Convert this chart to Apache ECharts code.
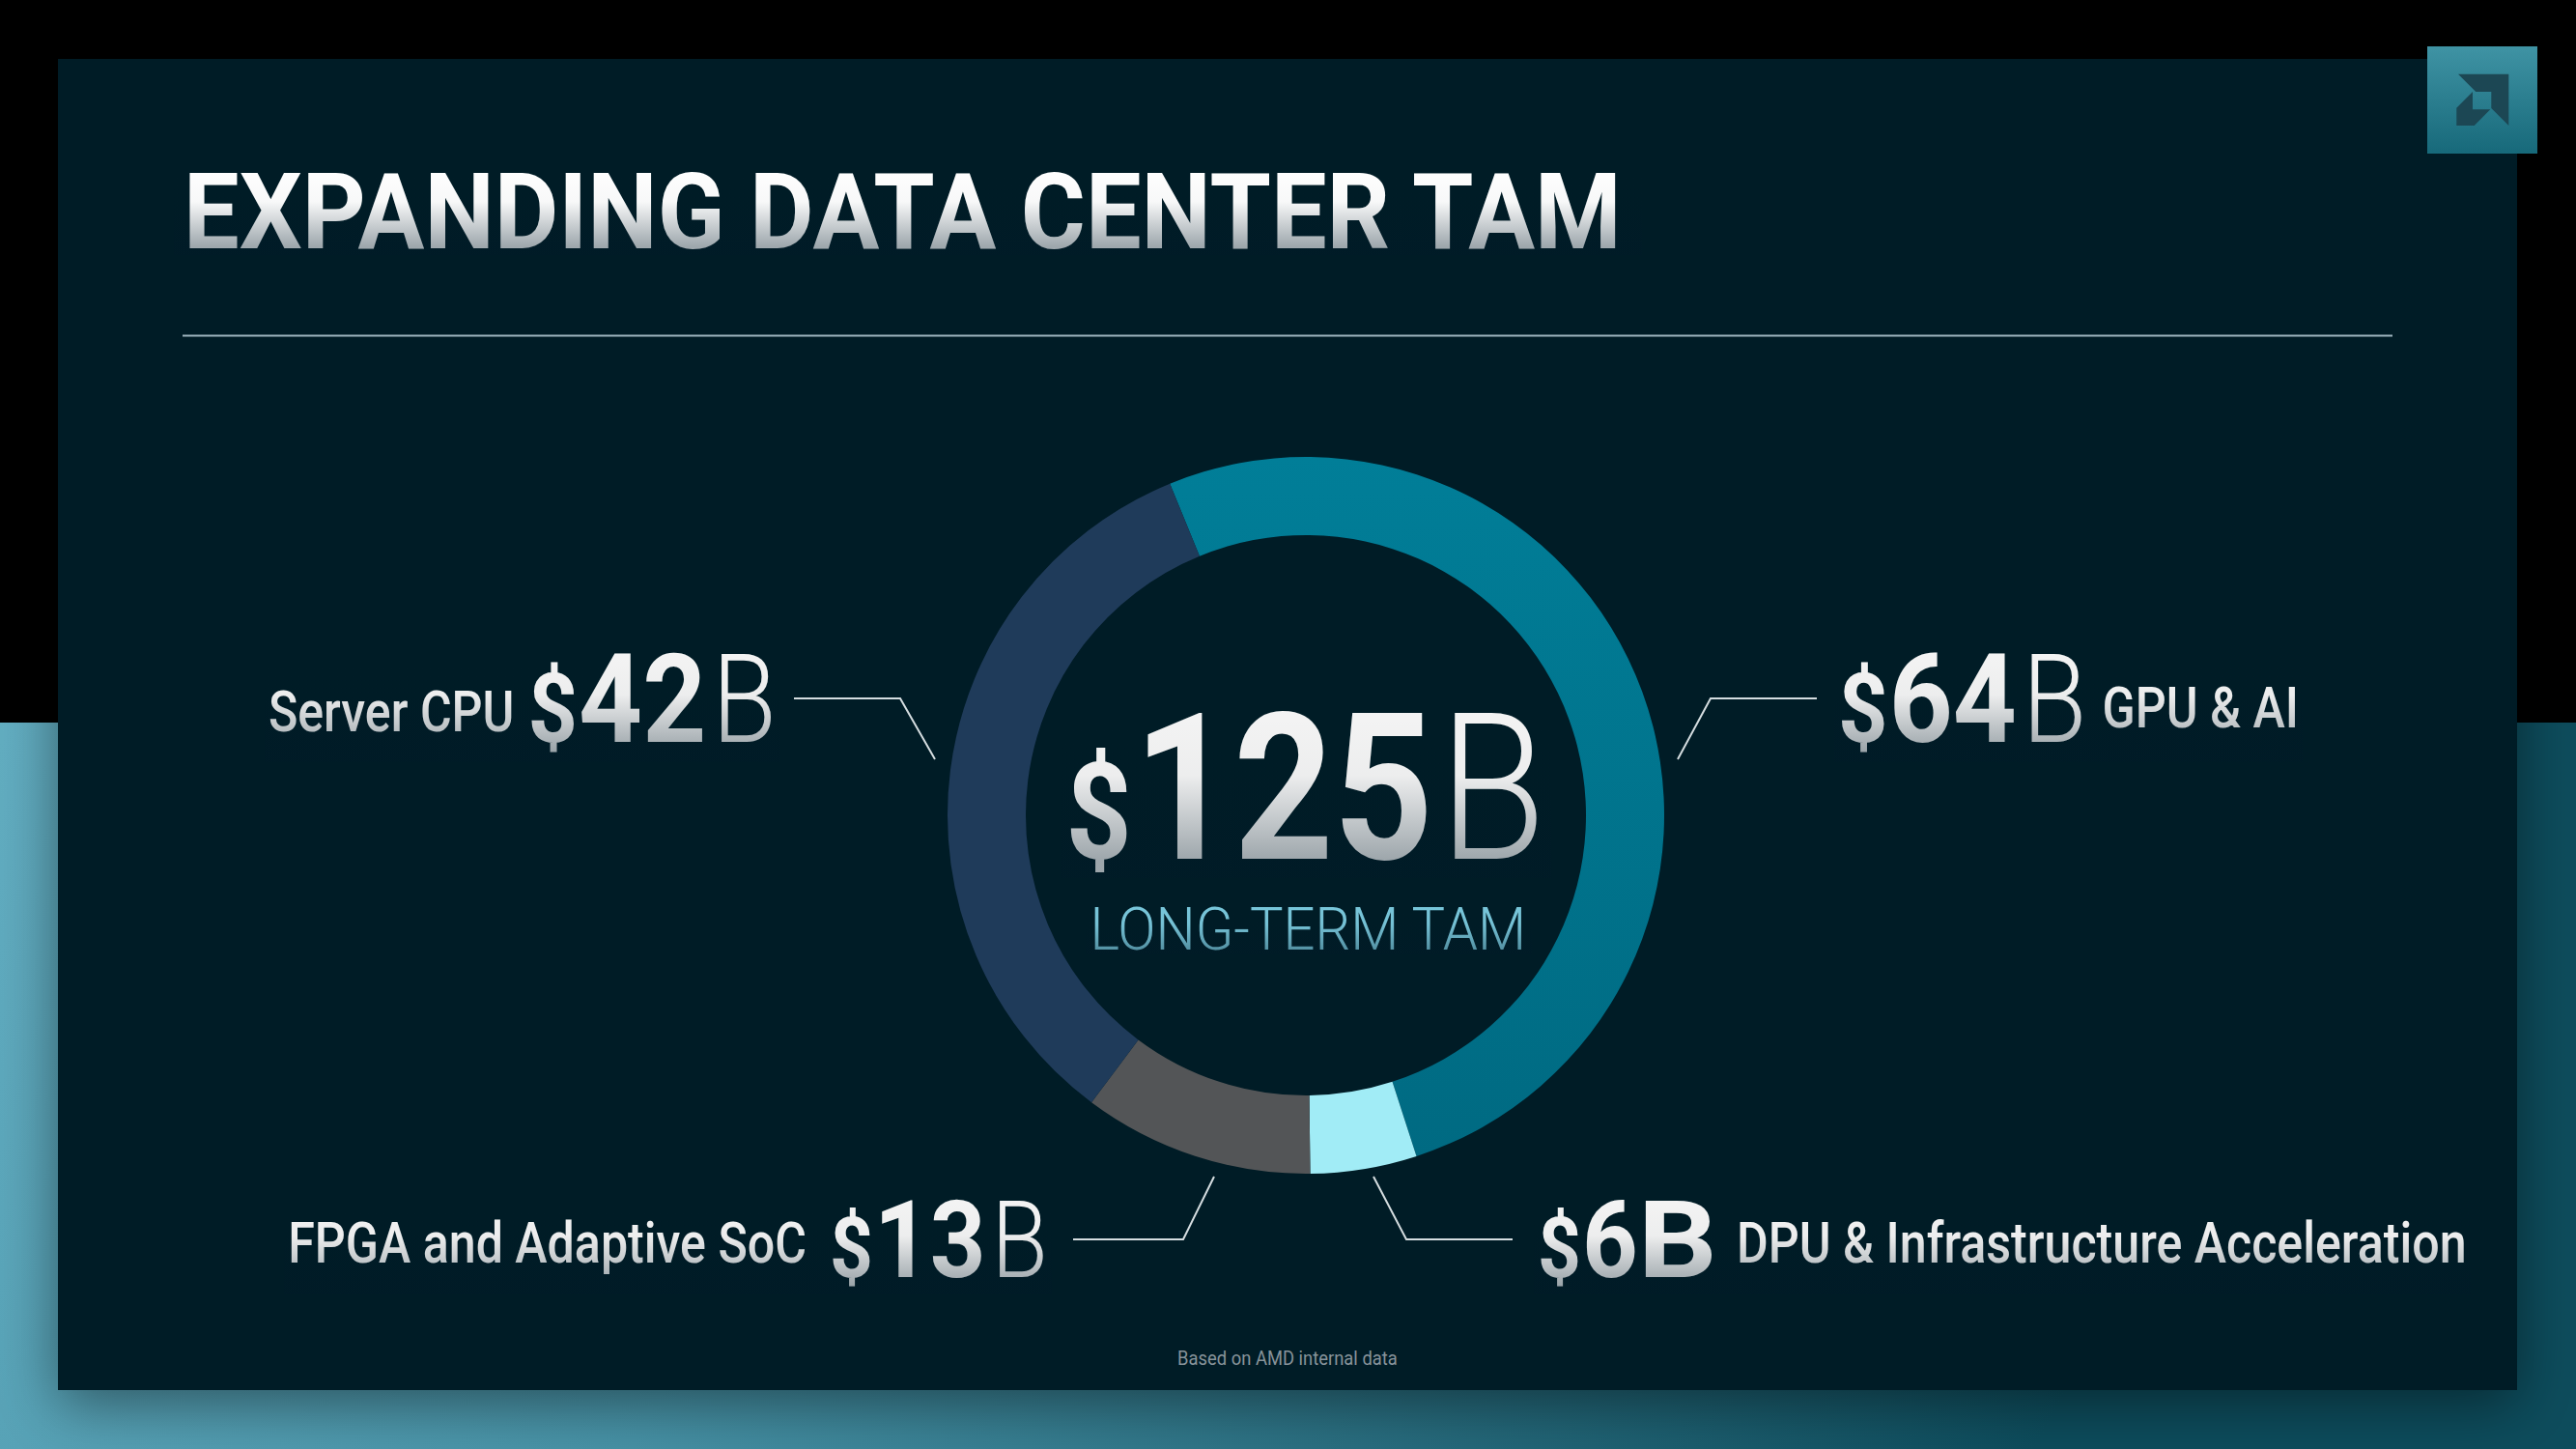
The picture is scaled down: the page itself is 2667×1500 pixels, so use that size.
<!DOCTYPE html>
<html>
<head>
<meta charset="utf-8">
<script src="https://cdn.jsdelivr.net/npm/echarts@6/dist/echarts.min.js"></script>
<style>
html,body{margin:0;padding:0;background:#000;}
#main{width:2667px;height:1500px;}
</style>
</head>
<body>
<div id="main"></div>
<script>
// ---------------- DATA ----------------
const chartTitle = 'EXPANDING DATA CENTER TAM';
const categories = ['GPU & AI', 'DPU & Infrastructure Acceleration', 'FPGA and Adaptive SoC', 'Server CPU'];
const values = [64, 6, 13, 42];           // $B
const totalCaption = 'LONG-TERM TAM';
const footnote = 'Based on AMD internal data';
const unitText = 'B';
const currency = '$';

// ---------------- STYLE / LAYOUT ----------------
const FONT = 'Roboto, "Noto Sans", sans-serif';
const K = 0.342; // central-baseline offset (em)
const PANEL = '#011a28';
const TEXT = '#f4f4f4';
const sliceColors = [
  new echarts.graphic.LinearGradient(0, 0, 0, 1, [{offset: 0, color: '#017e98'}, {offset: 1, color: '#006a82'}]),
  '#a1ecf6',
  '#535557',
  '#1f3b5a'
];
const PIE_CENTER = [1352, 844];
const PIE_RADIUS = [290, 371];
// leader line geometry & label rows, per category (annotation layout)
const labelPlacement = [
  {side: 'right', line: [[1737, 786], [1771, 723], [1881, 723]], numBase: 768, nameBase: 753, numSize: 128, unitWeight: 300, gap: 22, nameGap: 16},
  {side: 'right', line: [[1422, 1218], [1456, 1283], [1566, 1283]], numBase: 1322, nameBase: 1307, numSize: 112, unitWeight: 700, gap: 26, nameGap: 20},
  {side: 'left',  line: [[1257, 1218], [1225, 1283], [1111, 1283]], numBase: 1322, nameBase: 1307, numSize: 112, unitWeight: 300, gap: 26, nameGap: 24},
  {side: 'left',  line: [[968, 786], [932, 723], [822, 723]], numBase: 768, nameBase: 757, numSize: 128, unitWeight: 300, gap: 18, nameGap: 14}
];
const SC = {name: 0.85, num: 0.9, unit: 0.85, unitBold: 1.15, center: 0.85, caption: 0.935, foot: 0.92};

const mctx = document.createElement('canvas').getContext('2d');
function fontStr(w, s) { return w + ' ' + s + 'px ' + FONT; }
function tw(text, w, s) { mctx.font = fontStr(w, s); return mctx.measureText(text).width; }
function textEl(text, x, baseline, weight, size, scaleX, fill, align, z) {
  return {
    type: 'text', x: x, y: baseline - K * size, scaleX: scaleX, scaleY: 1, silent: true, z: z || 20,
    style: {text: text, font: fontStr(weight, size), fill: fill, textAlign: align || 'left', textVerticalAlign: 'middle'}
  };
}
// vertical "silver" shading: panel-coloured veil, transparent at top, denser toward the baseline
function shade(x, y, w, h, a) {
  return {type: 'rect', z: 30, silent: true, shape: {x: x, y: y, width: w, height: h},
    style: {fill: new echarts.graphic.LinearGradient(0, 0, 0, 1, [
      {offset: 0, color: 'rgba(1,26,40,0)'}, {offset: 0.4, color: 'rgba(1,26,40,0.03)'},
      {offset: 0.9, color: 'rgba(1,26,40,' + a + ')'}, {offset: 1, color: 'rgba(1,26,40,' + a + ')'}])}};
}
function runWidth(pieces) { return pieces.reduce((a, p) => a + (p.pre || 0) + tw(p.t, p.w, p.s) * p.sc, 0); }
function runPieces(pieces, startX) {
  const els = [];
  let x = startX;
  pieces.forEach(p => {
    x += p.pre || 0;
    els.push(textEl(p.t, x, p.base, p.w, p.s, p.sc, p.fill || TEXT));
    x += tw(p.t, p.w, p.s) * p.sc;
  });
  return {els: els, width: x - startX};
}

const graphics = [];
// background
graphics.push({type: 'rect', z: 0, silent: true, shape: {x: 0, y: 0, width: 2667, height: 1500},
  style: {fill: new echarts.graphic.LinearGradient(0, 0, 1, 0.3, [
    {offset: 0, color: '#6db8cc'}, {offset: 0.5, color: '#4691a5'}, {offset: 1, color: '#0d4c5c'}])}});
graphics.push({type: 'rect', z: 1, silent: true, shape: {x: 0, y: 0, width: 2667, height: 748}, style: {fill: '#000000'}});
graphics.push({type: 'rect', z: 2, silent: true, shape: {x: 60, y: 61, width: 2546, height: 1378},
  style: {fill: PANEL, shadowBlur: 60, shadowColor: 'rgba(0,0,0,0.45)', shadowOffsetY: 14}});
// logo
graphics.push({type: 'rect', z: 3, silent: true, shape: {x: 2513, y: 48, width: 114, height: 111},
  style: {fill: new echarts.graphic.LinearGradient(0, 0, 0, 1, [{offset: 0, color: '#3f93a4'}, {offset: 1, color: '#17697a'}])}});
graphics.push({type: 'polygon', z: 4, silent: true, shape: {points: [[2545, 76.7], [2597.3, 76.7], [2597.3, 130], [2579.3, 112], [2579.3, 95], [2563.3, 95]]}, style: {fill: '#1c4754'}});
graphics.push({type: 'polygon', z: 4, silent: true, shape: {points: [[2543.3, 111.7], [2560, 95], [2560, 113.3], [2578.3, 113.3], [2561.7, 130], [2543.3, 130]]}, style: {fill: '#1c4754'}});
// title & rule
(function () {
  const fs = 110, target = 1491;
  const sc = target / tw(chartTitle, 700, fs);
  graphics.push(textEl(chartTitle, 190, 257, 700, fs, sc, '#ffffff'));
  graphics.push(shade(180, 172, 1520, 92, 0.38));
})();
graphics.push({type: 'line', z: 5, silent: true, shape: {x1: 189, y1: 347.5, x2: 2477, y2: 347.5}, style: {stroke: '#9db4bd', lineWidth: 2}});

// center total
(function () {
  const total = values.reduce((a, b) => a + b, 0);
  const base = 889;
  const pieces = [
    {t: currency, w: 700, s: 140, sc: SC.center, base: base},
    {t: String(total), w: 700, s: 212, sc: SC.center, base: base, pre: 2},
    {t: unitText, w: 300, s: 212, sc: SC.center, base: base, pre: 6}
  ];
  const width = runWidth(pieces);
  const x0 = PIE_CENTER[0] - width / 2;
  runPieces(pieces, x0).els.forEach(e => graphics.push(e));
  graphics.push(shade(x0 - 6, base - 0.74 * 212, width + 12, 0.74 * 212 + 20, 0.36));
  const cw = tw(totalCaption, 300, 62) * SC.caption;
  graphics.push(textEl(totalCaption, 1355 - cw / 2, 983, 300, 62, SC.caption, '#78c6da'));
  graphics.push(shade(1355 - cw / 2 - 5, 936, cw + 10, 52, 0.3));
})();

// category labels + leader lines
categories.forEach((name, i) => {
  const L = labelPlacement[i];
  const ns = L.numSize;
  const numPieces = [
    {t: currency, w: 700, s: Math.round(ns * 0.78), sc: SC.num, base: L.numBase},
    {t: String(values[i]), w: 700, s: ns, sc: SC.num, base: L.numBase, pre: 1},
    {t: unitText, w: L.unitWeight, s: ns, sc: L.unitWeight === 700 ? SC.unitBold : SC.unit, base: L.numBase, pre: L.unitWeight === 700 ? 0 : 6}
  ];
  const namePiece = {t: name, w: 500, s: 59, sc: SC.name, base: L.nameBase};
  const end = L.line[2];
  let pieces, startX;
  if (L.side === 'right') {
    namePiece.pre = L.nameGap;
    pieces = numPieces.concat([namePiece]);
    startX = end[0] + L.gap;
  } else {
    numPieces[0].pre = L.nameGap;
    pieces = [namePiece].concat(numPieces);
    startX = end[0] - L.gap - runWidth(pieces);
  }
  const r = runPieces(pieces, startX);
  r.els.forEach(e => graphics.push(e));
  graphics.push(shade(startX - 4, L.numBase - 0.74 * ns, r.width + 8, 0.74 * ns + 0.16 * ns, 0.36));
  graphics.push({type: 'polyline', z: 6, silent: true, shape: {points: L.line}, style: {stroke: '#d5dde0', lineWidth: 2, fill: null}});
});

// footnote
(function () {
  const w = tw(footnote, 400, 20) * SC.foot;
  graphics.push(textEl(footnote, 1333 - w / 2, 1413, 400, 20, SC.foot, '#87939a'));
})();

const pieData = categories.map((name, i) => ({name: name, value: values[i], itemStyle: {color: sliceColors[i]}}));

const chart = echarts.init(document.getElementById('main'), null, {renderer: 'svg', width: 2667, height: 1500});
chart.setOption({
  animation: false,
  backgroundColor: '#000',
  graphic: {elements: graphics},
  series: [{
    type: 'pie',
    z: 10,
    center: PIE_CENTER,
    radius: PIE_RADIUS,
    startAngle: 112.3,
    clockwise: true,
    silent: true,
    avoidLabelOverlap: false,
    label: {show: false},
    labelLine: {show: false},
    itemStyle: {borderWidth: 0},
    emphasis: {disabled: true},
    data: pieData
  }]
});
</script>
</body>
</html>
